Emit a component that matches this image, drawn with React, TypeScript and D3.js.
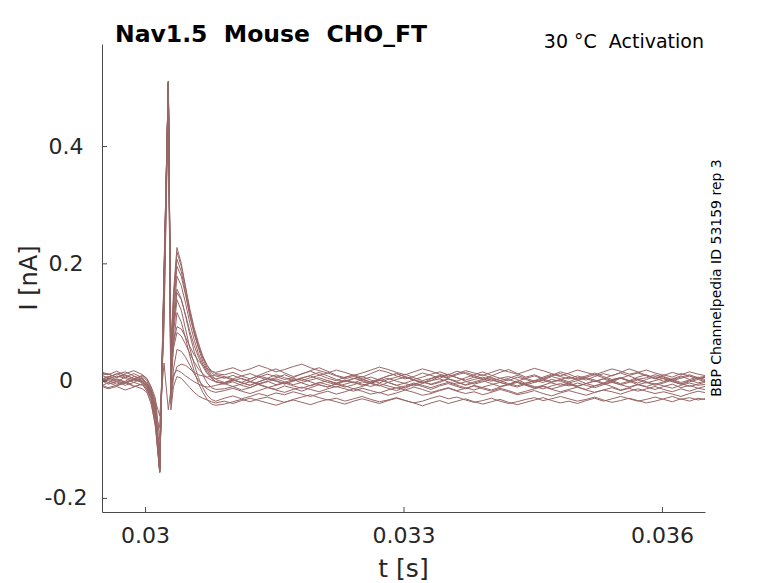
import { useEffect, useRef } from "react";
import * as d3 from "d3";

// sample times in microseconds, denser around the capacitive transient
const sampleTimesUs = [
  29470, 29570, 29670, 29770, 29870, 29970,
  30020, 30070, 30120, 30170, 30220, 30270, 30300, 30330, 30370,
  30420, 30470, 30520, 30570, 30620, 30670, 30720, 30770, 30820,
  ...d3.range(30920, 36521, 100),
];

// current of each sweep in pA
const sweep01 = [8, 12, 5, 10, 3, -4, -10, -25, -60, -155, 170, 510, 45, 150, 227, 200, 160, 122, 90, 64, 42, 26, 14, 8,
  4, 9, 3, -2, 6, 11, 7, 2, 5, 12, 16, 10, 4, 0, 6, 9, 3, -3, 2, 8, 12, 6, 1, -4, 3, 8, 5, 10, 14, 9,
  3, -1, 4, 7, 2, -5, 0, 6, 11, 7, 3, 8, 4, -2, 3, 9, 13, 8, 2, 5, 10, 6, 0, 4, 8, 3, 6];
const sweep02 = [-5, 2, 8, 4, -3, -8, -14, -30, -70, -156, 180, 508, 30, 140, 219, 195, 158, 118, 85, 60, 38, 22, 10, 2,
  -3, 2, -4, -8, -2, 3, -1, -6, 0, 5, 8, 2, -3, -7, -1, 4, 0, -5, -9, -3, 2, 6, 1, -4, 0, 7, 11, 5, -1, -6,
  -2, 3, -3, -7, -1, 4, 8, 3, -2, 2, 6, 1, -5, -9, -4, 1, 5, 0, -4, 2, 7, 3, -2, -6, 0, 4, -1];
const sweep03 = [14, 10, 16, 9, 4, 0, -8, -22, -55, -154, 160, 511, 60, 135, 207, 186, 150, 112, 80, 55, 33, 18, 6, -2,
  -6, -2, -8, -12, -5, -1, -7, -3, 2, -4, -9, -4, 0, -6, -11, -7, -2, -5, 1, -3, -8, -13, -6, -2, -7, -3, 3, -2, -8, -4,
  0, -5, -10, -6, -1, -7, -12, -8, -3, 1, -4, -9, -5, 0, -6, -2, 4, -1, -7, -3, -8, -4, 1, -5, -10, -6, -2];
const sweep04 = [2, -6, -2, 6, 12, 5, -6, -20, -45, -150, 190, 505, 20, 120, 195, 178, 146, 110, 82, 58, 40, 26, 17, 12,
  10, 14, 8, 3, 9, 15, 20, 13, 7, 11, 17, 22, 16, 9, 5, 10, 6, 12, 18, 14, 8, 3, 7, 13, 9, 4, 10, 16, 12, 6,
  2, 8, 14, 19, 12, 6, 10, 4, 9, 15, 11, 5, 1, 7, 12, 8, 14, 20, 15, 9, 4, 10, 6, 12, 8, 3, 7];
const sweep05 = [-10, -4, 3, -2, -9, -14, -20, -35, -80, -157, 150, 509, 10, 105, 178, 162, 132, 98, 70, 46, 28, 14, 4, -2,
  -4, 1, -3, -8, -2, 4, 0, -5, -1, 3, -2, -7, -11, -5, 0, -4, 2, 6, 1, -3, -8, -4, 1, -2, -6, -1, 3, -3, -7, -2,
  2, 5, 0, -5, -9, -4, 0, -3, 2, -1, -6, -10, -5, -1, 3, -2, -7, -3, 1, -4, 0, 4, -1, -6, -2, 2, -3];
const sweep06 = [5, 0, -6, -1, 7, 3, -5, -18, -50, -152, 175, 507, 0, 90, 156, 140, 110, 78, 50, 28, 10, -4, -12, -15,
  -14, -10, -16, -12, -6, -11, -15, -9, -13, -18, -12, -7, -11, -5, -9, -14, -10, -4, -8, -13, -17, -11, -6, -10, -15, -9, -5, -10, -14, -8,
  -12, -16, -11, -7, -3, -8, -13, -9, -14, -10, -6, -11, -15, -9, -5, -10, -16, -12, -7, -11, -15, -10, -6, -12, -8, -13, -9];
const sweep07 = [-2, 4, 0, -5, 1, 8, 0, -15, -42, -148, 165, 506, 35, 100, 150, 138, 112, 84, 60, 40, 24, 12, 6, 3,
  6, 1, -3, 3, 8, 4, 10, 5, 0, 4, 9, 14, 8, 2, -2, 3, 7, 1, -4, 2, 6, 11, 5, 0, 4, 9, 3, -1, 5, 10,
  15, 9, 4, 0, 6, 2, -3, 1, 7, 3, -2, 4, 8, 13, 7, 2, 5, 0, 6, 10, 4, -1, 3, 8, 2, 6, 1];
const sweep08 = [10, 5, 12, 6, 1, -2, -12, -28, -65, -155, 155, 504, -10, 80, 138, 120, 88, 55, 28, 5, -12, -25, -32, -35,
  -30, -26, -31, -27, -22, -26, -21, -24, -19, -23, -27, -22, -18, -23, -19, -14, -18, -23, -20, -25, -21, -16, -20, -25, -22, -17, -13, -18, -22, -19,
  -24, -20, -15, -19, -24, -21, -17, -22, -26, -21, -17, -21, -25, -20, -16, -19, -23, -18, -14, -18, -22, -19, -23, -27, -22, -18, -21];
const sweep09 = [-6, -12, -8, -3, -10, -6, -18, -40, -75, -153, 140, 503, -20, 60, 116, 100, 72, 42, 16, -5, -20, -32, -40, -42,
  -40, -36, -32, -36, -31, -28, -33, -37, -32, -28, -24, -29, -33, -30, -35, -31, -27, -32, -36, -33, -29, -34, -38, -35, -30, -26, -31, -28, -33, -37,
  -34, -30, -35, -39, -36, -32, -29, -34, -31, -27, -31, -35, -32, -28, -33, -37, -34, -30, -34, -38, -35, -31, -27, -32, -29, -33, -30];
const sweep10 = [0, 6, 11, 15, 8, 2, -4, -16, -40, -150, 185, 510, 25, 65, 92, 88, 74, 58, 44, 34, 26, 20, 16, 14,
  18, 22, 16, 20, 26, 21, 15, 19, 24, 28, 22, 17, 13, 18, 14, 9, 13, 18, 23, 19, 14, 10, 15, 20, 16, 11, 7, 12, 17, 13,
  9, 14, 19, 15, 11, 16, 21, 17, 12, 8, 13, 18, 14, 10, 15, 20, 16, 11, 14, 18, 13, 9, 14, 10, 15, 11, 8];
const sweep11 = [3, -3, -9, -4, 2, -1, -9, -24, -58, -156, 160, 508, 15, 55, 82, 76, 62, 46, 32, 20, 12, 5, 1, -2,
  -5, 0, 4, -1, -6, -2, 3, -2, -7, -3, 1, 5, 0, -4, 1, -3, -8, -4, 0, 4, -1, -5, -9, -5, 0, 3, -2, -6, -2, 2,
  6, 1, -3, 2, -3, -7, -3, 1, -4, -8, -4, 0, 5, 1, -4, 0, -5, -1, 3, -2, -6, -2, 2, -3, 1, -4, 0];
const sweep12 = [-4, 2, -2, -8, -3, 4, -6, -20, -48, -120, 130, 500, -30, 20, 53, 50, 40, 26, 12, 0, -8, -14, -18, -20,
  -17, -13, -18, -22, -17, -12, -16, -20, -15, -11, -15, -19, -14, -10, -14, -18, -13, -17, -21, -16, -12, -16, -11, -15, -20, -16, -12, -17, -13, -9,
  -14, -18, -13, -17, -22, -18, -14, -10, -15, -19, -15, -11, -16, -20, -16, -12, -17, -13, -18, -14, -10, -15, -19, -14, -18, -13, -16];
const sweep13 = [16, 11, 6, 12, 17, 10, 4, -10, -30, -100, 110, 495, -40, 5, 24, 28, 26, 20, 14, 10, 8, 6, 8, 10,
  7, 3, 8, 12, 6, 1, 5, 10, 4, 0, 5, 9, 13, 8, 3, 7, 2, -2, 3, 8, 12, 7, 2, 6, 11, 15, 10, 5, 1, 6,
  10, 5, 0, 4, 9, 4, -1, 3, 8, 12, 7, 2, 6, 10, 5, 0, 4, 9, 13, 8, 3, 7, 2, 6, 10, 5, 8];
const sweep14 = [-8, -14, -10, -16, -11, -5, -14, -30, -60, -80, 90, 490, -50, -10, 7, 4, -4, -12, -20, -26, -30, -33, -36, -38,
  -35, -39, -34, -30, -34, -38, -42, -37, -33, -37, -41, -36, -32, -36, -40, -35, -31, -35, -39, -34, -30, -34, -38, -43, -38, -34, -39, -35, -31, -36,
  -40, -36, -32, -37, -41, -37, -33, -29, -34, -38, -35, -39, -34, -30, -35, -31, -27, -31, -35, -32, -28, -32, -36, -31, -35, -30, -33];
const sweep15 = [1, 7, 2, -3, 3, 9, 3, -12, -35, -60, 30, -50, -15, 10, 18, 14, 8, 3, -2, -6, -9, -11, -10, -8,
  -5, -10, -6, -2, -7, -12, -8, -4, -9, -13, -8, -3, -7, -11, -6, -2, -6, -10, -5, -9, -13, -9, -4, -8, -12, -7, -3, -8, -12, -16,
  -11, -7, -3, -7, -11, -6, -10, -14, -9, -5, -9, -4, -8, -12, -7, -3, -7, -11, -6, -10, -5, -9, -13, -8, -4, -8, -6];

const sweeps = [sweep01, sweep02, sweep03, sweep04, sweep05, sweep06, sweep07, sweep08,
  sweep09, sweep10, sweep11, sweep12, sweep13, sweep14, sweep15];

const xTicks = [0.03, 0.033, 0.036];
const xTickLabels = ["0.03", "0.033", "0.036"];
const yTicks = [-0.2, 0, 0.2, 0.4];
const yTickLabels = ["-0.2", "0", "0.2", "0.4"];

const FONT = "'DejaVu Sans', sans-serif";

const drawChart = (el: SVGSVGElement) => {
  const svg = d3.select(el);
  svg.selectAll("*").remove();

  const left = 102, right = 705, top = 44, bottom = 512;

  const x = d3.scaleLinear().domain([0.0295, 0.0365]).range([left, right]);
  const y = d3.scaleLinear().domain([-0.224, 0.574]).range([bottom, top]);

  svg.append("defs").append("clipPath").attr("id", "plot-clip")
    .append("rect")
    .attr("x", left).attr("y", top)
    .attr("width", right - left).attr("height", bottom - top);

  const line = d3.line<number>()
    .x((_, i) => x(sampleTimesUs[i] / 1e6))
    .y(d => y(d / 1000));

  // 1) TRACES
  svg.append("g")
    .attr("clip-path", "url(#plot-clip)")
    .selectAll("path")
    .data(sweeps)
    .enter()
    .append("path")
    .attr("d", d => line(d.slice(0, sampleTimesUs.length)))
    .attr("fill", "none")
    .attr("stroke", "#996666")
    .attr("stroke-width", 1)
    .attr("stroke-linejoin", "round");

  // 2) AXES (ticks pointing inward)
  const yAxis = svg.append("g")
    .attr("transform", `translate(${left},0)`)
    .call(d3.axisLeft(y).tickValues(yTicks).tickSize(-5).tickSizeOuter(0)
      .tickFormat((_, i) => yTickLabels[i]));
  yAxis.selectAll("text")
    .attr("x", 66 - left)
    .attr("text-anchor", "middle")
    .attr("font-size", "22px")
    .attr("font-family", FONT)
    .attr("fill", "#262626");

  const xAxis = svg.append("g")
    .attr("transform", `translate(0,${bottom})`)
    .call(d3.axisBottom(x).tickValues(xTicks).tickSize(-5).tickSizeOuter(0)
      .tickFormat((_, i) => xTickLabels[i]));
  xAxis.selectAll("text")
    .attr("y", 15)
    .attr("font-size", "22px")
    .attr("font-family", FONT)
    .attr("fill", "#262626");

  svg.selectAll(".domain, .tick line").attr("stroke", "#4a4a4a");

  // 3) LABELS
  svg.append("text")
    .text("t [s]")
    .attr("x", (left + right) / 2)
    .attr("y", 577)
    .attr("text-anchor", "middle")
    .attr("font-size", "25px")
    .attr("font-family", FONT)
    .attr("fill", "#262626");

  svg.append("text")
    .text("I [nA]")
    .attr("transform", `translate(37,${(top + bottom) / 2}) rotate(-90)`)
    .attr("text-anchor", "middle")
    .attr("font-size", "24px")
    .attr("font-family", FONT)
    .attr("fill", "#262626");

  svg.append("text")
    .text("Nav1.5  Mouse  CHO_FT")
    .attr("x", 115)
    .attr("y", 42)
    .style("white-space", "pre")
    .attr("font-size", "23.5px")
    .attr("font-weight", "bold")
    .attr("font-family", FONT)
    .attr("fill", "#000");

  svg.append("text")
    .text("30 °C  Activation")
    .attr("x", 704)
    .attr("y", 48)
    .attr("text-anchor", "end")
    .style("white-space", "pre")
    .attr("font-size", "19px")
    .attr("font-family", FONT)
    .attr("fill", "#000");

  svg.append("text")
    .text("BBP Channelpedia ID 53159 rep 3")
    .attr("transform", `translate(721,278) rotate(-90)`)
    .attr("text-anchor", "middle")
    .attr("font-size", "14px")
    .attr("font-family", FONT)
    .attr("fill", "#000");
};

export default function App() {
  const ref = useRef<SVGSVGElement>(null);

  useEffect(() => {
    document.body.style.margin = "0";
    if (ref.current) drawChart(ref.current);
  }, []);

  return <svg ref={ref} width={778} height={583} style={{ display: "block", background: "#fff" }} />;
}
